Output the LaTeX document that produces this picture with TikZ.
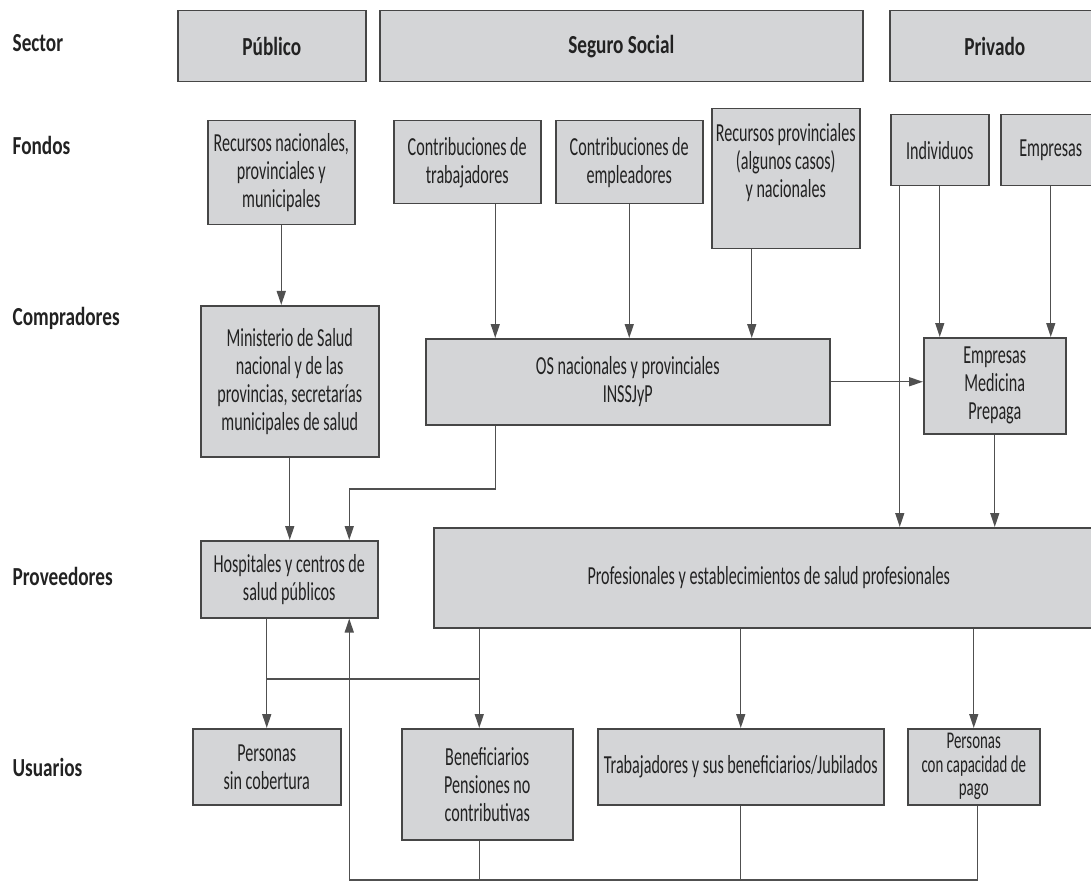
\documentclass[tikz,border=0pt]{standalone}
\usepackage{fontspec}
\setmainfont[FakeStretch=0.62]{Carlito}
\newfontfamily\labelfont[FakeStretch=0.74]{Carlito}
\usetikzlibrary{arrows.meta}
\definecolor{boxfill}{HTML}{D4D5D7}
\definecolor{boxline}{HTML}{464646}
\definecolor{linegray}{HTML}{505050}
\definecolor{txtgray}{HTML}{222222}

\begin{document}
\begin{tikzpicture}[
x=1pt, y=-1pt,
>={Triangle[length=14pt,width=9pt]},
linegray, line width=1.3pt,
box/.style={rectangle, draw=boxline, fill=boxfill, line width=1.5pt, anchor=north west, align=center, inner sep=1pt, text=txtgray, font=\fontsize{26}{28}\selectfont},
sectorbox/.style={box, font=\fontsize{26}{28}\selectfont\labelfont\bfseries},
rowlabel/.style={anchor=west, inner sep=0pt, text=txtgray, font=\fontsize{26}{28}\selectfont\labelfont\bfseries},
]
\useasboundingbox (0,0) rectangle (1091,882);
%Nodes
\node[rowlabel] (sectorlabel) at (12,43) {Sector};
\node[rowlabel] (fondoslabel) at (12,145) {Fondos};
\node[rowlabel] (compradoreslabel) at (12,318) {Compradores};
\node[rowlabel] (proveedoreslabel) at (12,576) {Proveedores};
\node[rowlabel] (usuarioslabel) at (12,767) {Usuarios};

\node[sectorbox, minimum width=188, minimum height=71] (publico) at (177,10) {Público};
\node[sectorbox, minimum width=483, minimum height=71] (seguro) at (379,10) {Seguro Social};
\node[sectorbox, minimum width=210, minimum height=71] (privado) at (889,10) {Privado};

\node[box, minimum width=147, minimum height=104] (recnac) at (207,120) {Recursos nacionales,\\provinciales y\\municipales};
\node[box, minimum width=147, minimum height=83] (contrab) at (393,120) {Contribuciones de\\trabajadores};
\node[box, minimum width=147, minimum height=83] (conemp) at (555,120) {Contribuciones de\\empleadores};
\node[box, minimum width=148, minimum height=140] (recprov) at (711,108) {Recursos provinciales\\(algunos casos)\\y nacionales\\[8pt]};
\node[box, minimum width=98, minimum height=71] (individuos) at (890,114) {Individuos};
\node[box, minimum width=100, minimum height=71] (empresas) at (1000,114) {Empresas};

\node[box, minimum width=178, minimum height=151] (ministerio) at (200,305) {Ministerio de Salud\\nacional y de las\\provincias, secretarías\\municipales de salud};
\node[box, minimum width=404, minimum height=86] (osnac) at (425,338) {OS nacionales y provinciales\\INSSJyP};
\node[box, minimum width=142, minimum height=96] (prepaga) at (923,337) {Empresas\\Medicina\\Prepaga};

\node[box, minimum width=177, minimum height=77] (hospitales) at (200,540) {Hospitales y centros de\\salud públicos};
\node[box, minimum width=670, minimum height=100] (profesionales) at (433,527) {Profesionales y establecimientos de salud profesionales};

\node[box, minimum width=148, minimum height=76] (sincob) at (192,728) {Personas\\sin cobertura};
\node[box, minimum width=171, minimum height=111] (benef) at (401,728) {Beneficiarios\\Pensiones no\\contributivas};
\node[box, minimum width=286, minimum height=76] (trabaj) at (597,728) {Trabajadores y sus beneficiarios/Jubilados};
\node[box, minimum width=132, minimum height=76, inner sep=0pt, font=\fontsize{24}{23.5}\selectfont] (capacidad) at (907,728) {Personas\\con capacidad de\\pago};

\coordinate (bend) at (0,489);
\coordinate (hbar) at (0,679);
\coordinate (loopy) at (0,880);

%Lines
\draw[->] (recnac.south) -- (recnac.south |- ministerio.north);
\draw[->] ([xshift=28]contrab.south) -- ([xshift=28]contrab.south |- osnac.north);
\draw[->] (conemp.south) -- (conemp.south |- osnac.north);
\draw[->] ([xshift=-34]recprov.south) -- ([xshift=-34]recprov.south |- osnac.north);
\draw[->] (individuos.south) -- (individuos.south |- prepaga.north);
\draw[->] ([xshift=-40]individuos.south) -- ([xshift=-40]individuos.south |- profesionales.north);
\draw[->] (empresas.south) -- (empresas.south |- prepaga.north);
\draw[->] (osnac.east) -- (osnac.east -| prepaga.west);
\draw[->] (prepaga.south) -- (prepaga.south |- profesionales.north);

\draw[->] (ministerio.south) -- (ministerio.south |- hospitales.north);
\draw[->] ([xshift=-132]osnac.south) |- ([xshift=60]hospitales.north |- bend) -- ([xshift=60]hospitales.north);

\draw[->] (sincob.north |- hospitales.south) -- (sincob.north);
\draw (sincob.north |- hbar) -- ([xshift=-8]benef.north |- hbar);
\draw[->] ([xshift=-8]benef.north |- profesionales.south) -- ([xshift=-8]benef.north);
\draw[->] (trabaj.north |- profesionales.south) -- (trabaj.north);
\draw[->] (capacidad.north |- profesionales.south) -- (capacidad.north);

\draw ([xshift=-8]benef.south) -- ([xshift=-8]benef.south |- loopy);
\draw (trabaj.south) -- (trabaj.south |- loopy);
\draw[->] ([xshift=4]capacidad.south) |- ([xshift=60]hospitales.south |- loopy) -- ([xshift=60]hospitales.south);

\end{tikzpicture}
\end{document}
